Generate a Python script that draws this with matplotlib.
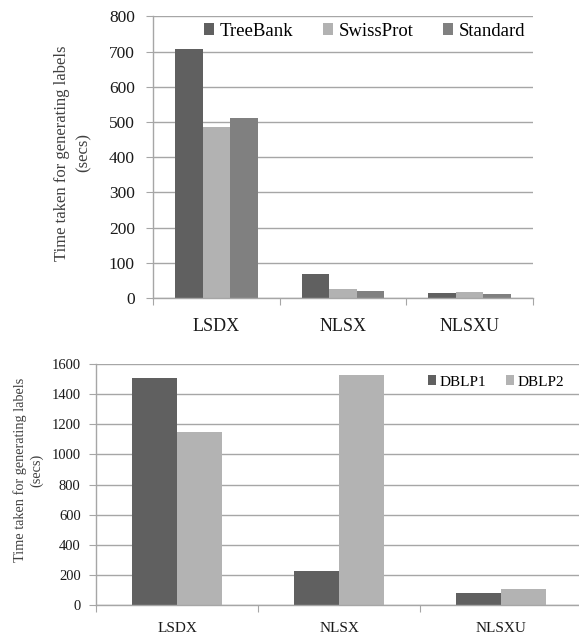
import numpy as np
import matplotlib
matplotlib.use("Agg")
import matplotlib.pyplot as plt

plt.rcParams['font.family'] = ['Liberation Serif', 'DejaVu Serif']

# top chart data
categories = ['LSDX', 'NLSX', 'NLSXU']
series_top = ['TreeBank', 'SwissProt', 'Standard']
treebank = [707, 67, 15]
swissprot = [486, 26, 18]
standard = [511, 21, 10]
colors_top = ['#606060', '#b2b2b2', '#808080']

# bottom chart data
series_bot = ['DBLP1', 'DBLP2']
dblp1 = [1510, 224, 78]
dblp2 = [1150, 1525, 108]
colors_bot = ['#606060', '#b3b3b3']

ylabel = 'Time taken for generating labels\n(secs)'
grid_c = '#a6a6a6'

W, H = 579, 635
fig = plt.figure(figsize=(W / 100, H / 100), dpi=100)


def box(l, t, r, b):
    return [l / W, 1 - b / H, (r - l) / W, (b - t) / H]


def style(ax, fs_tick, fs_x, pad_y, pad_x):
    for s in ['top', 'right']:
        ax.spines[s].set_visible(False)
    for s in ['left', 'bottom']:
        ax.spines[s].set_color(grid_c)
        ax.spines[s].set_linewidth(1.0)
    ax.yaxis.grid(True, color=grid_c, linewidth=1.0)
    ax.set_axisbelow(True)
    ax.tick_params(axis='y', length=5, color=grid_c, labelsize=fs_tick,
                   pad=pad_y, labelcolor='#1a1a1a')
    x = np.arange(len(categories))
    # category boundaries get the tick marks, centres get the labels
    ax.set_xticks(np.arange(-0.5, len(categories), 1.0))
    ax.set_xticklabels([])
    ax.tick_params(axis='x', which='major', length=5, color=grid_c)
    ax.set_xticks(x, minor=True)
    ax.set_xticklabels(categories, minor=True)
    ax.tick_params(axis='x', which='minor', length=0, labelsize=fs_x,
                   pad=pad_x, labelcolor='#1a1a1a')
    ax.set_xlim(-0.5, len(categories) - 0.5)


# ---- top chart
ax1 = fig.add_axes(box(153, 16.5, 533, 298))
x = np.arange(len(categories))
bw = 0.217
for i, (vals, name) in enumerate(zip([treebank, swissprot, standard], series_top)):
    ax1.bar(x + (i - 1) * bw, vals, bw, color=colors_top[i], label=name)
ax1.set_ylim(0, 800)
ax1.set_yticks(range(0, 801, 100))
style(ax1, 12.5, 13, 8, 14.5)
fig.text(73 / W, 1 - 153 / H, ylabel, rotation=90, ha='center', va='center',
         fontsize=12, color='#404040', linespacing=1.45, multialignment='center')
fig.legend(*ax1.get_legend_handles_labels(), loc='center left',
           bbox_to_anchor=(204 / W, 1 - 31 / H), ncol=3, frameon=False,
           fontsize=13.5, handlelength=0.55, handleheight=0.55,
           handletextpad=0.3, columnspacing=1.55, borderpad=0, borderaxespad=0)

# ---- bottom chart
ax2 = fig.add_axes(box(96, 364, 582, 605))
bw2 = 0.28
for i, (vals, name) in enumerate(zip([dblp1, dblp2], series_bot)):
    ax2.bar(x + (i - 0.5) * bw2, vals, bw2, color=colors_bot[i], label=name)
ax2.set_ylim(0, 1600)
ax2.set_yticks(range(0, 1601, 200))
style(ax2, 10.5, 11, 6, 12)
fig.text(28 / W, 1 - 470 / H, ylabel, rotation=90, ha='center', va='center',
         fontsize=10.3, color='#404040', linespacing=1.3, multialignment='center')
fig.legend(*ax2.get_legend_handles_labels(), loc='center left',
           bbox_to_anchor=(428 / W, 1 - 382 / H), ncol=2, frameon=False,
           fontsize=11, handlelength=0.55, handleheight=0.55,
           handletextpad=0.2, columnspacing=1.3, borderpad=0, borderaxespad=0)

fig.savefig('out.png', dpi=100, facecolor='white')
